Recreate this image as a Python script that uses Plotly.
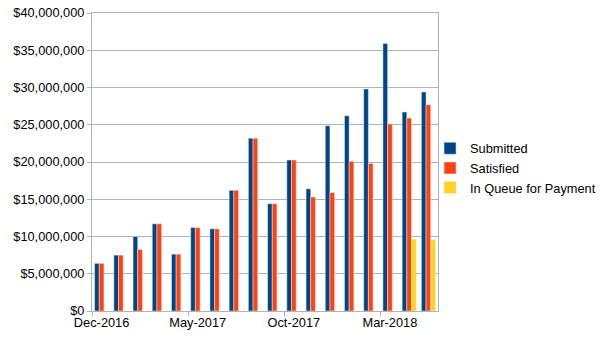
import plotly.graph_objects as go

months = ["Dec-2016", "Jan-2017", "Feb-2017", "Mar-2017", "Apr-2017", "May-2017",
          "Jun-2017", "Jul-2017", "Aug-2017", "Sep-2017", "Oct-2017", "Nov-2017",
          "Dec-2017", "Jan-2018", "Feb-2018", "Mar-2018", "Apr-2018", "May-2018"]
submitted = [6.39e6, 7.50e6, 10.0e6, 11.7e6, 7.63e6, 11.2e6, 11.03e6, 16.2e6, 23.2e6,
             14.4e6, 20.27e6, 16.4e6, 24.87e6, 26.2e6, 29.8e6, 35.9e6, 26.7e6, 29.4e6]
satisfied = [6.39e6, 7.50e6, 8.26e6, 11.7e6, 7.63e6, 11.2e6, 11.03e6, 16.2e6, 23.2e6,
             14.4e6, 20.27e6, 15.3e6, 15.9e6, 20.1e6, 19.8e6, 25.1e6, 25.9e6, 27.7e6]
in_queue = [None] * 16 + [9.64e6, 9.56e6]
tick_labels = ["Dec-2016", "May-2017", "Oct-2017", "Mar-2018"]

font = dict(family="Liberation Sans, Arial, sans-serif", size=12.8, color="#000000")
grid = "#b3b3b3"

fig = go.Figure()
fig.add_trace(go.Bar(x=months, y=submitted, name="Submitted", marker_color="#004586"))
fig.add_trace(go.Bar(x=months, y=satisfied, name="Satisfied", marker_color="#ff420e"))
fig.add_trace(go.Bar(x=months, y=in_queue, name="In Queue for Payment", marker_color="#ffd320"))
# invisible trace to carry boundary tick marks
fig.add_trace(go.Scatter(x=[-0.5, 17.5], y=[0, 0], xaxis="x2", mode="lines",
                         line=dict(width=0), showlegend=False, hoverinfo="skip"))

fig.update_layout(
    width=605, height=340,
    margin=dict(l=92, r=167, t=13, b=29, autoexpand=False),
    paper_bgcolor="white", plot_bgcolor="white",
    font=font,
    barmode="group", bargap=0.27, bargroupgap=0,
    legend=dict(x=0.977, y=0.48, xanchor="left", yanchor="middle",
                bgcolor="rgba(0,0,0,0)",
                font=font, tracegroupgap=0, itemwidth=30),
    xaxis=dict(type="category", categoryorder="array", categoryarray=months,
               tickmode="array", tickvals=tick_labels, ticktext=tick_labels,
               ticks="", showgrid=False, showline=True, linecolor=grid, mirror=True,
               range=[-0.5, 17.5], tickfont=font),
    xaxis2=dict(overlaying="x", range=[-0.5, 17.5], tickmode="array",
                tickvals=[-0.5, 4.5, 9.5, 14.5], ticks="outside", ticklen=4,
                tickcolor=grid, showticklabels=False, showgrid=False,
                showline=False, zeroline=False, side="bottom"),
    yaxis=dict(range=[0, 40e6], dtick=5e6, tickprefix="$", tickformat=",d",
               showgrid=True, gridcolor=grid, gridwidth=1, zeroline=False,
               showline=True, linecolor=grid, mirror=True,
               ticks="outside", ticklen=4, tickcolor=grid, tickfont=font),
)

fig.write_html("out.html")
